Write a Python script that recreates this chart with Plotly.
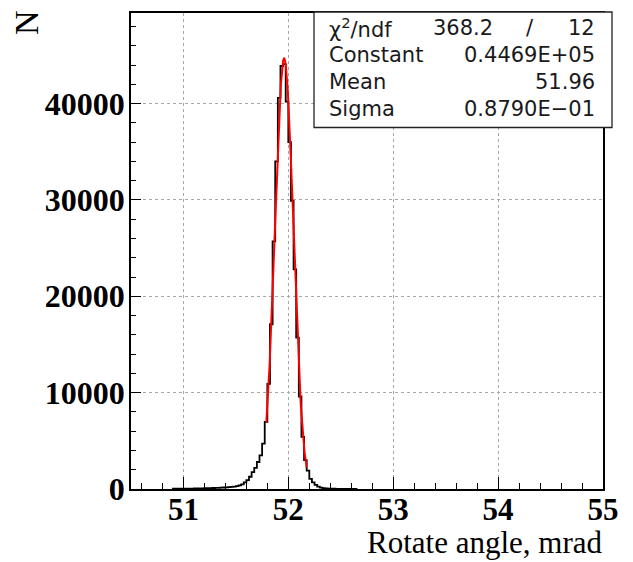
import numpy as np
import plotly.graph_objects as go

# ---------------- data ----------------
first_edge = 50.9      # lower edge of first listed bin (mrad)
bin_width = 0.025      # mrad
counts = [
    25, 28, 30, 33, 36, 40, 44, 48, 53, 58,            # 50.900 ..
    64, 70, 77, 85, 94, 104, 115, 127, 140, 155,       # 51.150 ..
    172, 192, 215, 250, 300, 370, 480, 680, 930, 1270,  # 51.400 ..
    1750, 2200, 2800, 3500, 4700, 6960, 10900, 17100, 25700, 34000,  # 51.650 ..
    40600, 43900, 44100, 40200, 36000, 29900, 22800, 15700, 9600, 5400,  # 51.900 ..
    3000, 1900, 1050, 680, 420, 240, 140, 90, 60, 45,  # 52.150 ..
    35, 28, 22, 18, 15, 12, 9, 6, 4, 2,                # 52.400 ..
]

fit_const = 0.4469e05
fit_mean = 51.96
fit_sigma = 0.8790e-01
fit_range = (51.79, 52.175)
chi2 = 368.2
ndf = 12

x_ticks = [51, 52, 53, 54, 55]
y_ticks = [0, 10000, 20000, 30000, 40000]
x_range = [50.5, 55.0]
y_range = [0, 49400]

# ---------------- geometry helpers ----------------
W_FIG, H_FIG = 633, 562
L, R, T, B = 131, 603, 11, 489
PW, PH = R - L, B - T


def px(x):
    return (x - L) / PW


def py(y):
    return (B - y) / PH


# histogram step outline
edges = [first_edge + i * bin_width for i in range(len(counts) + 1)]
hx = [edges[0]] + edges[:-1] + [edges[-1], edges[-1]]
hy = [0] + counts + [counts[-1], 0]

fx = np.linspace(fit_range[0], fit_range[1], 200)
fy = fit_const * np.exp(-0.5 * ((fx - fit_mean) / fit_sigma) ** 2)

fig = go.Figure()
fig.add_trace(go.Scatter(x=hx, y=hy, mode="lines", line_shape="hv",
                         line=dict(color="black", width=1.8), hoverinfo="skip"))
fig.add_trace(go.Scatter(x=fx, y=fy, mode="lines",
                         line=dict(color="#ff0000", width=2), hoverinfo="skip"))

xtickfont = dict(family="Liberation Serif", size=31, color="black", weight="bold")
ytickfont = dict(family="Liberation Serif", size=32, color="black", weight="bold")

fig.update_xaxes(range=x_range, tickvals=x_ticks, ticktext=[str(v) for v in x_ticks],
                 ticks="inside", ticklen=12, tickwidth=1, tickcolor="black",
                 showline=True, linecolor="black", linewidth=1.5, mirror=True,
                 showgrid=True, gridcolor="#a8a8a8", griddash="dot", gridwidth=1,
                 zeroline=False, tickfont=xtickfont, ticklabelstandoff=-8,
                 minor=dict(ticks="inside", ticklen=6, dtick=0.2, tick0=51,
                            tickcolor="black", showgrid=False))
fig.update_yaxes(range=y_range, tickvals=y_ticks, ticktext=[str(v) for v in y_ticks],
                 ticks="inside", ticklen=10, tickwidth=1, tickcolor="black",
                 showline=True, linecolor="black", linewidth=1.5, mirror=True,
                 showgrid=True, gridcolor="#a8a8a8", griddash="dot", gridwidth=1,
                 zeroline=False, tickfont=ytickfont, ticklabelstandoff=-2,
                 minor=dict(ticks="inside", ticklen=5, dtick=2000, tick0=0,
                            tickcolor="black", showgrid=False))

annotations = []
# axis titles
annotations.append(dict(text="N", x=px(27), y=py(21), xref="paper", yref="paper",
                        textangle=-90, showarrow=False, xanchor="center", yanchor="middle",
                        font=dict(family="Liberation Serif", size=34, color="black")))
annotations.append(dict(text="Rotate angle, mrad", x=px(604), y=py(543), xref="paper",
                        yref="paper", showarrow=False, xanchor="right", yanchor="middle",
                        font=dict(family="Liberation Serif", size=31, color="black")))

# stats box
box_x0, box_x1, box_y0, box_y1 = 314, 612, 10, 126
sfont = dict(family="DejaVu Sans", size=21, color="#1a1a1a")
rows_y = [26, 53, 80, 107]
labels = ["χ<sup>2</sup>/ndf", "Constant", "Mean", "Sigma"]
values = [None, "0.4469E+05", f"{fit_mean:.2f}", "0.8790E−01"]
for yy, lab, val in zip(rows_y, labels, values):
    annotations.append(dict(text=lab, x=px(327), y=py(yy), xref="paper", yref="paper",
                            showarrow=False, xanchor="left", yanchor="middle", font=sfont))
    if val is not None:
        annotations.append(dict(text=val, x=px(597), y=py(yy), xref="paper", yref="paper",
                                showarrow=False, xanchor="right", yanchor="middle", font=sfont))
annotations.append(dict(text=f"{chi2:.1f}", x=px(495), y=py(rows_y[0]), xref="paper",
                        yref="paper", showarrow=False, xanchor="right", yanchor="middle",
                        font=sfont))
annotations.append(dict(text="/", x=px(530), y=py(rows_y[0]), xref="paper",
                        yref="paper", showarrow=False, xanchor="center", yanchor="middle",
                        font=sfont))
annotations.append(dict(text=str(ndf), x=px(597), y=py(rows_y[0]), xref="paper",
                        yref="paper", showarrow=False, xanchor="right", yanchor="middle",
                        font=sfont))

fig.update_layout(
    width=W_FIG, height=H_FIG,
    margin=dict(l=L, r=W_FIG - R, t=T, b=H_FIG - B),
    paper_bgcolor="white", plot_bgcolor="white",
    showlegend=False,
    annotations=annotations,
    shapes=[dict(type="rect", xref="paper", yref="paper",
                 x0=px(box_x0), x1=px(box_x1), y0=py(box_y1), y1=py(box_y0),
                 fillcolor="white", line=dict(color="#222222", width=1.3), layer="above")],
)

fig.write_html("out.html")
